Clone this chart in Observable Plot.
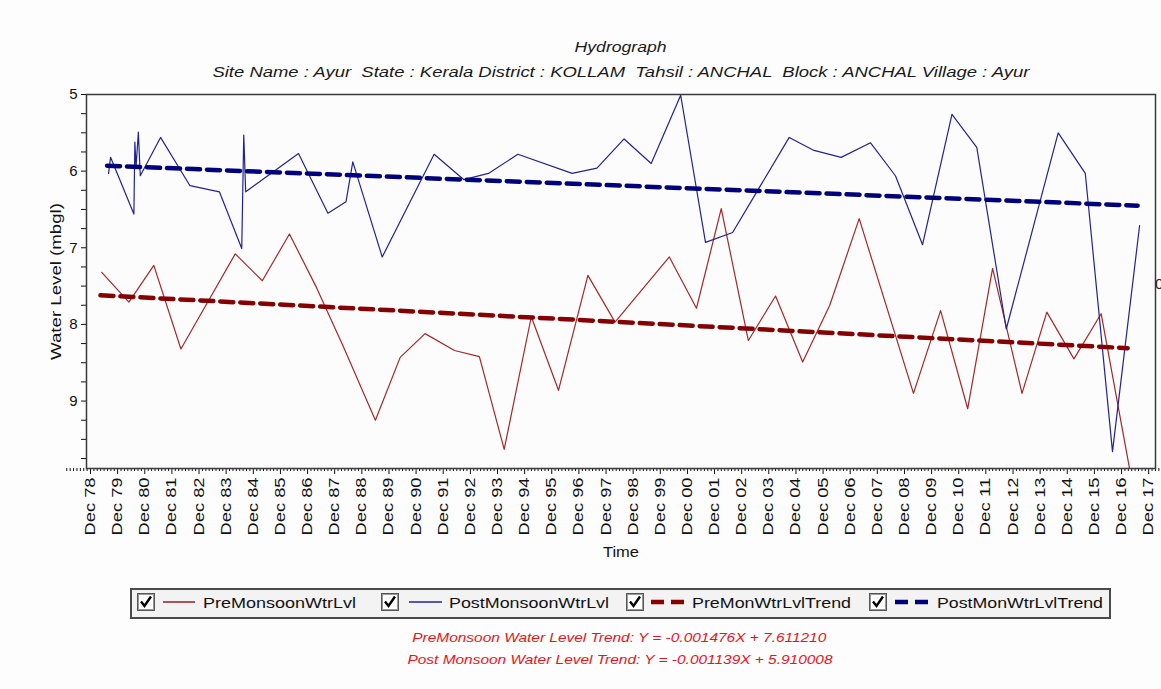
<!DOCTYPE html>
<html><head><meta charset="utf-8">
<script src="https://cdn.jsdelivr.net/npm/d3@7"></script>
<script src="https://cdn.jsdelivr.net/npm/@observablehq/plot@0.6"></script>
<style>
body{margin:0;background:#fff;font-family:"Liberation Sans",Arial,sans-serif;}
#wrap{position:relative;width:1161px;height:689px;overflow:hidden;background:#fdfdfd;}
.t{position:absolute;white-space:pre;display:inline-block;line-height:1;}
#chart{position:absolute;left:0;top:84px;}
</style></head><body><div id="wrap"><div id="chart"></div></div>
<script>
// ---------- data ----------
const preDates = ["1979-05","1980-05","1981-04","1982-04","1984-04","1985-04","1986-04","1987-04","1988-04","1989-06","1990-05","1991-04","1992-05","1993-04","1994-03","1995-03","1996-03","1997-04","1998-04","2000-04","2001-04","2002-03","2003-03","2004-03","2005-03","2006-03","2007-04","2009-04","2010-04","2011-04","2012-03","2013-04","2014-03","2015-03","2016-03","2017-04"];
const preLevels = [7.32,7.71,7.23,8.32,7.08,7.43,6.82,7.52,8.30,9.25,8.43,8.12,8.34,8.42,9.63,7.90,8.86,7.36,7.97,7.12,7.79,6.49,8.21,7.63,8.49,7.75,6.62,8.90,7.82,9.10,7.27,8.90,7.84,8.45,7.86,9.95];

const postDates = ["1979-08-01","1979-08-28","1980-07-07","1980-07-20","1980-08-05","1980-09-05","1980-10-01","1981-07","1982-08","1983-09","1984-06-28","1984-07-25","1984-08-20","1986-08","1987-09","1988-05","1988-08","1989-09","1991-08","1992-09","1993-08","1994-09","1996-09","1997-08","1998-08","1999-08","2000-09","2001-08","2002-08","2004-09","2005-08","2006-08","2007-09","2008-08","2009-08","2010-09","2011-08","2012-09","2014-08","2015-08","2016-08","2017-08"];
const postLevels = [6.03,5.82,6.56,5.62,5.95,5.49,6.06,5.56,6.19,6.27,7.01,5.53,6.27,5.77,6.55,6.40,5.88,7.12,5.78,6.11,6.03,5.78,6.03,5.96,5.58,5.90,5.01,6.93,6.80,5.56,5.73,5.82,5.63,6.06,6.96,5.26,5.69,8.06,5.50,6.03,9.66,6.71];

const preTrendDates = ["1979-04-14","2017-02-21"];
const preTrendLevels = [7.62, 8.31];
const postTrendDates = ["1979-07-12","2017-07-05"];
const postTrendLevels = [5.93, 6.45];

const yTicks = [5,5.25,5.5,5.75,6,6.25,6.5,6.75,7,7.25,7.5,7.75,8,8.25,8.5,8.75,9,9.25,9.5,9.75];
const yTickLabels = ["5","6","7","8","9"];
const xTickYears = d3.range(1978, 2018);

const seriesNames = ["PreMonsoonWtrLvl","PostMonsoonWtrLvl","PreMonWtrLvlTrend","PostMonWtrLvlTrend"];
const titleText = "Hydrograph";
const subtitleText = "Site Name : Ayur  State : Kerala District : KOLLAM  Tahsil : ANCHAL  Block : ANCHAL Village : Ayur";
const eqTexts = ["PreMonsoon Water Level Trend: Y = -0.001476X + 7.611210",
                 "Post Monsoon Water Level Trend: Y = -0.001139X + 5.910008"];

// ---------- build ----------
const toRows = (ds, vs) => ds.map((d,i)=>({date:new Date(d), level:vs[i]}));
const pre = toRows(preDates, preLevels);
const post = toRows(postDates, postLevels);
const preTrend = toRows(preTrendDates, preTrendLevels);
const postTrend = toRows(postTrendDates, postTrendLevels);

const xMajor = xTickYears.map(y => new Date(Date.UTC(y, 11, 1)));
const xMinor = [];
for (const y of [1977, ...xTickYears]) {
  const base = Date.UTC(y, 11, 1);
  for (let k = 1; k < 8; k++) xMinor.push(new Date(base + k * 365.25 / 8 * 864e5));
}

const wrap = document.getElementById("wrap");
const RED = "#9e2a2b", BLUE = "#23238e", DRED = "#850000", DBLUE = "#00007c";

const chart = Plot.plot({
  width: 1161, height: 478,
  marginLeft: 86, marginRight: 6, marginTop: 10, marginBottom: 94,
  style: {background: "transparent", fontFamily: "'Liberation Sans', Arial, sans-serif", color: "#111"},
  x: {type: "utc", domain: [new Date("1978-10-08"), new Date("2018-03-03")]},
  y: {domain: [5, 9.88], reverse: true},
  marks: [
    Plot.frame({fill: "#fcfcfc"}),
    Plot.axisY({ticks: yTicks, tickSize: 5, tickPadding: 4, fontSize: 15,
      tickFormat: d => yTickLabels.includes(String(d)) ? String(d) : "",
      label: "Water Level (mbgl)", labelAnchor: "center", labelArrow: "none", labelOffset: 36}),
    Plot.axisX({ticks: xMinor, tickSize: 3, tickFormat: () => "", label: null}),
    Plot.axisX({ticks: xMajor, tickSize: 6, tickPadding: 3, tickRotate: -90, fontSize: 14,
      tickFormat: d => "Dec " + String(d.getUTCFullYear()).slice(2),
      label: "Time", labelAnchor: "center", labelArrow: "none", labelOffset: 88}),
    Plot.line(pre, {x: "date", y: "level", stroke: RED, strokeWidth: 1.2, clip: true}),
    Plot.line(post, {x: "date", y: "level", stroke: BLUE, strokeWidth: 1.2, clip: true}),
    Plot.line(preTrend, {x: "date", y: "level", stroke: DRED, strokeWidth: 4.5, strokeDasharray: "13,7"}),
    Plot.line(postTrend, {x: "date", y: "level", stroke: DBLUE, strokeWidth: 4.5, strokeDasharray: "13,7"}),
    Plot.frame({stroke: "#3a3a3a", strokeWidth: 1.5})
  ]
});
document.getElementById("chart").appendChild(chart);

// stretch axis text to the reference's proportions
d3.select(chart).selectAll('g[aria-label="x-axis tick label"] text')
  .filter(function(){ return this.textContent.length > 0; })
  .attr("textLength", 58).attr("lengthAdjust", "spacingAndGlyphs");
d3.select(chart).selectAll('g[aria-label="y-axis label"] text')
  .attr("textLength", 157).attr("lengthAdjust", "spacingAndGlyphs").attr("font-size", 15);
d3.select(chart).selectAll('g[aria-label="x-axis label"] text')
  .attr("textLength", 36).attr("lengthAdjust", "spacingAndGlyphs").attr("font-size", 15);

// ---------- html text helpers ----------
function addText(str, {x, y, size, target, anchor = "middle", italic = false, color = "#111"}) {
  const s = document.createElement("span");
  s.className = "t"; s.textContent = str;
  s.style.fontSize = size + "px";
  if (italic) s.style.fontStyle = "italic";
  s.style.color = color;
  wrap.appendChild(s);
  const r = s.getBoundingClientRect();
  const k = target ? target / r.width : 1;
  s.style.left = (anchor === "middle" ? x - r.width / 2 : x) + "px";
  s.style.top = (y - r.height / 2) + "px";
  s.style.transformOrigin = anchor === "middle" ? "50% 50%" : "0 50%";
  s.style.transform = `scaleX(${k})`;
  return s;
}

addText(titleText, {x: 621, y: 47, size: 14, target: 92, italic: true, color: "#1a1a1a"});
addText(subtitleText, {x: 621, y: 71, size: 15, target: 817, italic: true, color: "#1a1a1a"});
addText("0", {x: 1155, y: 283, size: 15, anchor: "start", color: "#222"});

// ---------- legend ----------
const box = document.createElement("div");
Object.assign(box.style, {position: "absolute", left: "130px", top: "588px", width: "977px", height: "27px",
  border: "2px solid #4a4a4a", background: "#f3f3f3"});
wrap.appendChild(box);

function checkbox(x) {
  const ns = "http://www.w3.org/2000/svg";
  const svg = document.createElementNS(ns, "svg");
  svg.setAttribute("width", 18); svg.setAttribute("height", 18);
  Object.assign(svg.style, {position: "absolute", left: x + "px", top: "593px"});
  svg.innerHTML = '<rect x="0.5" y="0.5" width="17" height="17" fill="#fff" stroke="#555"/>' +
    '<rect x="1.5" y="1.5" width="15" height="15" fill="none" stroke="#999"/>' +
    '<path d="M4 8.5 L7.5 13 L14 3.5" fill="none" stroke="#000" stroke-width="2.4"/>';
  wrap.appendChild(svg);
}
function sample(x1, x2, color, width, dash) {
  const ns = "http://www.w3.org/2000/svg";
  const svg = document.createElementNS(ns, "svg");
  svg.setAttribute("width", x2 - x1); svg.setAttribute("height", 10);
  Object.assign(svg.style, {position: "absolute", left: x1 + "px", top: "597px"});
  svg.innerHTML = `<line x1="0" y1="5" x2="${x2 - x1}" y2="5" stroke="${color}" stroke-width="${width}" ${dash ? `stroke-dasharray="${dash}"` : ""}/>`;
  wrap.appendChild(svg);
}
const legendItems = [
  {cb: 137, l1: 163, l2: 195, color: RED, w: 1.6, dash: null, tx: 203, tw: 153},
  {cb: 381, l1: 409, l2: 442, color: BLUE, w: 1.6, dash: null, tx: 449, tw: 160},
  {cb: 626, l1: 651, l2: 686, color: DRED, w: 4.5, dash: "13,7", tx: 692, tw: 159},
  {cb: 869, l1: 895, l2: 929, color: DBLUE, w: 4.5, dash: "13,7", tx: 937, tw: 166}
];
legendItems.forEach((it, i) => {
  checkbox(it.cb);
  sample(it.l1, it.l2, it.color, it.w, it.dash);
  addText(seriesNames[i], {x: it.tx, y: 602, size: 15, target: it.tw, anchor: "start", color: "#111"});
});

// ---------- trend equations ----------
addText(eqTexts[0], {x: 619, y: 637, size: 13, target: 414, italic: true, color: "#e3161e"});
addText(eqTexts[1], {x: 620, y: 659, size: 13, target: 425, italic: true, color: "#e3161e"});
</script>
</body></html>
